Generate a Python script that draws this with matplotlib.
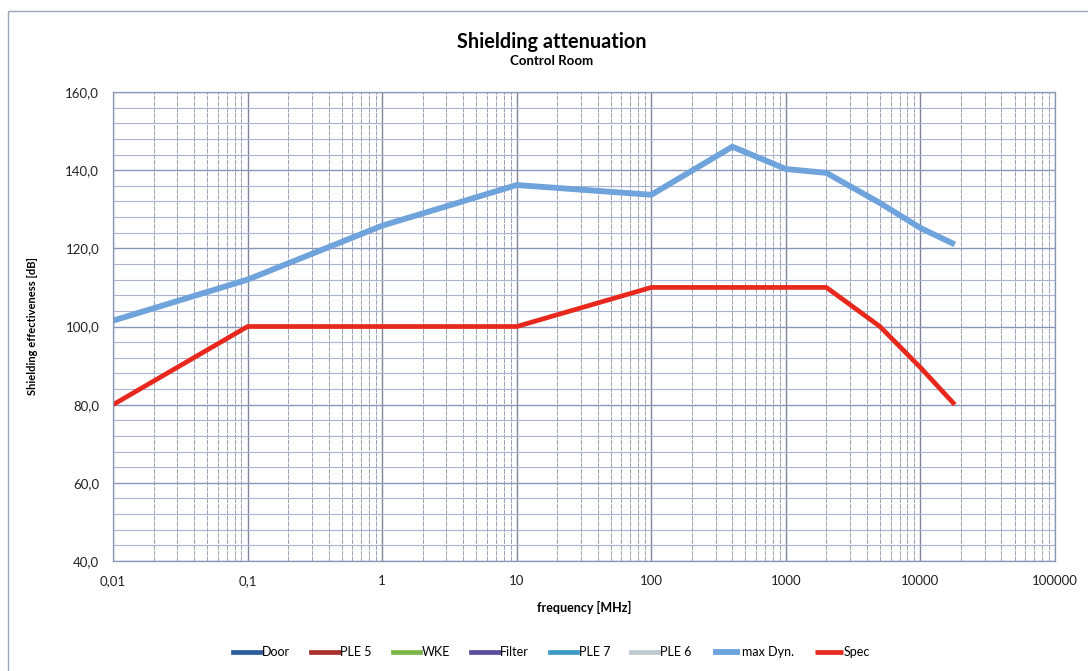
#!/usr/bin/env python3
"""Shielding attenuation of the control room, max dynamic range vs. spec."""
import matplotlib
matplotlib.use("Agg")
import matplotlib.pyplot as plt
from matplotlib.patches import Rectangle
from matplotlib.ticker import FixedLocator, LogLocator, NullFormatter, MultipleLocator, FuncFormatter

plt.rcParams['font.family'] = ['Lato', 'DejaVu Sans']

# frequency [MHz] and shielding effectiveness [dB]
maxdyn_f = [0.01, 0.1, 1, 10, 100, 400, 1000, 2000, 5000, 10000, 18000]
maxdyn_db = [101.5, 112.0, 125.8, 136.2, 133.7, 146.0, 140.3, 139.3, 131.6, 125.2, 121.0]

spec_f = [0.01, 0.1, 10, 100, 2000, 5000, 10000, 18000]
spec_db = [80, 100, 100, 110, 110, 100, 89.5, 80]

series_names = ['Door', 'PLE 5', 'WKE', 'Filter', 'PLE 7', 'PLE 6', 'max Dyn.', 'Spec']
series_colors = ['#2e5e9c', '#a8302e', '#7ab648', '#5b4c9c', '#3d9ac4', '#c0c8d0', '#6fa3dc', '#e8281c']

x_ticks = [0.01, 0.1, 1, 10, 100, 1000, 10000, 100000]
x_labels = ['0,01', '0,1', '1', '10', '100', '1000', '10000', '100000']

fig = plt.figure(figsize=(10.88, 6.71), dpi=100)
ax = fig.add_axes([0.1039, 0.1639, 0.8658, 0.699])

# outer chart frame
fig.patches.append(Rectangle((8 / 1088, -0.01), 1.02, 1 - 11 / 671 + 0.01,
                             transform=fig.transFigure, fill=False,
                             edgecolor='#9aa6b8', linewidth=1.0))

ax.set_xscale('log')
ax.set_xlim(0.01, 100000)
ax.set_ylim(40, 160)

ax.xaxis.set_major_locator(FixedLocator(x_ticks))
ax.xaxis.set_minor_locator(LogLocator(base=10, subs=range(2, 10), numticks=20))
ax.xaxis.set_minor_formatter(NullFormatter())
ax.set_xticklabels(x_labels)

ax.yaxis.set_major_locator(MultipleLocator(20))
ax.yaxis.set_minor_locator(MultipleLocator(4))
ax.yaxis.set_major_formatter(FuncFormatter(lambda v, p: f"{v:.1f}".replace('.', ',')))

ax.grid(which='major', axis='x', color='#7f8796', linewidth=1.0)
ax.grid(which='minor', axis='x', color='#9aa2b2', linewidth=0.7, linestyle=(0, (5, 1)))
ax.grid(which='major', axis='y', color='#8a96b8', linewidth=1.0)
ax.grid(which='minor', axis='y', color='#a9b4d4', linewidth=0.8)
ax.set_axisbelow(True)

for s in ax.spines.values():
    s.set_color('#8a96b8')
    s.set_linewidth(0.9)

ax.tick_params(which='both', length=0, labelsize=9.5, pad=10)
for lbl in ax.get_xticklabels() + ax.get_yticklabels():
    lbl.set_color('#222222')

# only max Dyn. and Spec carry data, the rest are legend entries
for name, col in zip(series_names, series_colors):
    if name == 'max Dyn.':
        ax.plot(maxdyn_f, maxdyn_db, color=col, linewidth=4.2, label=name,
                solid_capstyle='butt')
    elif name == 'Spec':
        ax.plot(spec_f, spec_db, color=col, linewidth=3.4, label=name,
                solid_capstyle='butt')
    else:
        ax.plot([], [], color=col, linewidth=3.4, label=name)

ax.set_xlabel('frequency [MHz]', fontsize=9, fontweight='bold', labelpad=10)
ax.set_ylabel('Shielding effectiveness [dB]', fontsize=8, fontweight='bold', labelpad=20)

fig.text(0.507, 1 - 42 / 671, 'Shielding attenuation', ha='center', va='center',
         fontsize=14.3, fontweight='bold')
fig.text(0.507, 1 - 61 / 671, 'Control Room', ha='center', va='center',
         fontsize=9.5, fontweight='bold')

leg = fig.legend(loc='center', bbox_to_anchor=(0.507, 1 - 652 / 671), ncol=8,
                 frameon=False, fontsize=9, handlelength=2.2, handletextpad=0.1,
                 columnspacing=1.7)

fig.savefig('out.png', dpi=100, facecolor='white')
